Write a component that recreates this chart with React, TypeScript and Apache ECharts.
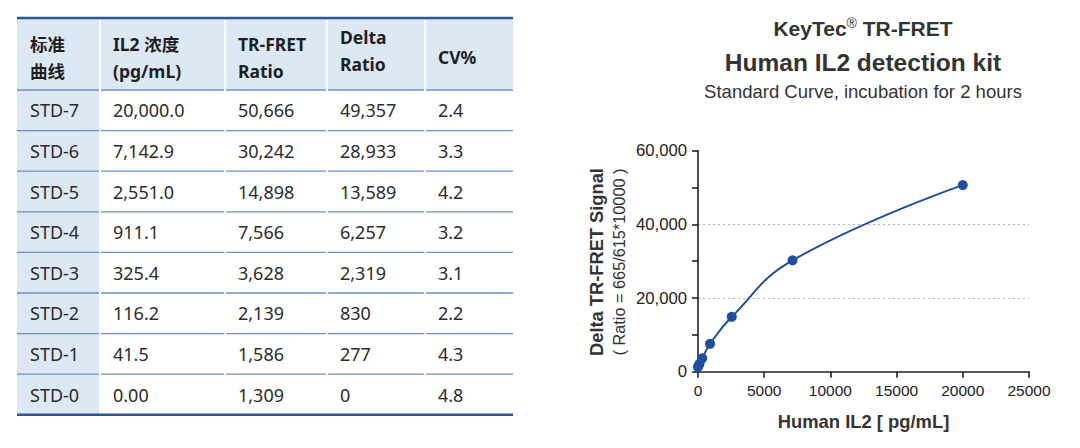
import React, { useEffect, useRef } from "react";
import * as echarts from "echarts";

// ---------- data ----------
const stdLabels = ["STD-7", "STD-6", "STD-5", "STD-4", "STD-3", "STD-2", "STD-1", "STD-0"];
const il2Conc = [20000.0, 7142.9, 2551.0, 911.1, 325.4, 116.2, 41.5, 0.0];
const trFretRatio = [50666, 30242, 14898, 7566, 3628, 2139, 1586, 1309];
const deltaRatio = [49357, 28933, 13589, 6257, 2319, 830, 277, 0];
const cvPercent = [2.4, 3.3, 4.2, 3.2, 3.1, 2.2, 4.3, 4.8];
const headerLabels = ["标准\n曲线", "IL2 浓度\n(pg/mL)", "TR-FRET\nRatio", "Delta\nRatio", "CV%"];
const xTicks = [0, 5000, 10000, 15000, 20000, 25000];
const yTicks = [0, 20000, 40000, 60000];

const fmtInt = (v: number) => v.toLocaleString("en-US");
const fmtConc = (v: number) =>
  v === 0 ? v.toFixed(2) : v.toLocaleString("en-US", { minimumFractionDigits: 1, maximumFractionDigits: 1 });

export default function App() {
  const ref = useRef<HTMLDivElement>(null);

  useEffect(() => {
    document.body.style.margin = "0";
    if (!ref.current) return;
    const chart = echarts.init(ref.current, null, { renderer: "svg" });

    // ---------- table layout ----------
    const colX = [17, 100, 225, 327, 425, 513];
    const tableTop = 18;
    const headerBottom = 90;
    const rowH = 40.6;
    const tableBottom = headerBottom + rowH * stdLabels.length;
    const headerBg = "#dde8f5";
    const lineColor = "#6f8fc2";
    const borderColor = "#2c5596";
    const latinFont = "'Noto Sans', 'Noto Sans CJK SC', sans-serif";
    const headerYOffset = [3, 3, 3, -4, 3];

    const g: any[] = [];
    g.push({ type: "rect", shape: { x: colX[0], y: tableTop, width: colX[5] - colX[0], height: headerBottom - tableTop }, style: { fill: headerBg }, silent: true });
    g.push({ type: "rect", shape: { x: colX[0], y: headerBottom, width: colX[1] - colX[0], height: tableBottom - headerBottom }, style: { fill: headerBg }, silent: true });
    for (let i = 0; i < stdLabels.length; i++) {
      const y = headerBottom + rowH * i;
      g.push({ type: "line", shape: { x1: colX[0], y1: y, x2: colX[5], y2: y }, style: { stroke: lineColor, lineWidth: 1.3 }, silent: true });
    }
    for (let c = 1; c < colX.length - 1; c++) {
      g.push({ type: "line", shape: { x1: colX[c], y1: tableTop + 2, x2: colX[c], y2: tableBottom - 2 }, style: { stroke: "#ffffff", lineWidth: 2 }, silent: true });
    }
    g.push({ type: "line", shape: { x1: colX[0], y1: tableTop, x2: colX[5], y2: tableTop }, style: { stroke: borderColor, lineWidth: 2.6 }, silent: true });
    g.push({ type: "line", shape: { x1: colX[0], y1: tableBottom, x2: colX[5], y2: tableBottom }, style: { stroke: borderColor, lineWidth: 2.6 }, silent: true });
    headerLabels.forEach((h, c) => {
      g.push({
        type: "text",
        x: colX[c] + 13,
        y: (tableTop + headerBottom) / 2 + headerYOffset[c],
        style: { text: h, fill: "#1f1f1f", font: `bold 17.5px ${latinFont}`, lineHeight: 27, textAlign: "left", textVerticalAlign: "middle" },
        silent: true,
      });
    });
    stdLabels.forEach((lab, i) => {
      const cells = [lab, fmtConc(il2Conc[i]), fmtInt(trFretRatio[i]), fmtInt(deltaRatio[i]), cvPercent[i].toFixed(1)];
      const y = headerBottom + rowH * (i + 0.5);
      cells.forEach((t, c) => {
        g.push({
          type: "text",
          x: colX[c] + 13,
          y,
          style: { text: t, fill: "#2b2b2b", font: `18px ${latinFont}`, textAlign: "left", textVerticalAlign: "middle" },
          silent: true,
        });
      });
    });

    // ---------- chart titles ----------
    const arial = "'Liberation Sans', Arial, sans-serif";
    const cx = 863;
    g.push({
      type: "text",
      x: cx,
      y: 28,
      style: {
        text: "{a|KeyTec}{s|®}{a| TR-FRET}",
        textAlign: "center",
        textVerticalAlign: "middle",
        rich: {
          a: { fontFamily: arial, fontWeight: "bold", fontSize: 21, fill: "#333333", color: "#333333" },
          s: { fontFamily: arial, fontWeight: "normal", fontSize: 14, fill: "#333333", color: "#333333", padding: [0, 0, 11, 0] },
        },
      },
      silent: true,
    });
    g.push({ type: "text", x: cx, y: 62, style: { text: "Human IL2 detection kit", textAlign: "center", textVerticalAlign: "middle", font: `bold 24.5px ${arial}`, fill: "#333333" }, silent: true });
    g.push({ type: "text", x: cx, y: 91, style: { text: "Standard Curve, incubation for 2 hours", textAlign: "center", textVerticalAlign: "middle", font: `18.5px ${arial}`, fill: "#333333" }, silent: true });
    g.push({ type: "text", x: 596, y: 262, rotation: Math.PI / 2, style: { text: "Delta TR-FRET Signal", textAlign: "center", textVerticalAlign: "middle", font: `bold 18.3px ${arial}`, fill: "#333333" }, silent: true });
    g.push({ type: "text", x: 619, y: 262, rotation: Math.PI / 2, style: { text: "( Ratio = 665/615*10000 )", textAlign: "center", textVerticalAlign: "middle", font: `16.3px ${arial}`, fill: "#333333" }, silent: true });

    const points = il2Conc.map((x, i) => [x, trFretRatio[i]]).sort((a, b) => a[0] - b[0]);
    const axisColor = "#222222";

    chart.setOption({
      animation: false,
      grid: { left: 698, right: 51, top: 150.7, bottom: 76.3, containLabel: false },
      xAxis: {
        type: "value",
        min: xTicks[0],
        max: xTicks[xTicks.length - 1],
        interval: xTicks[1] - xTicks[0],
        axisLine: { show: true, lineStyle: { color: axisColor, width: 1.6 } },
        axisTick: { show: true, length: 6, lineStyle: { color: axisColor, width: 1.6 } },
        axisLabel: { fontSize: 15.5, color: axisColor, margin: 11, fontFamily: arial, formatter: (v: number) => String(v) },
        splitLine: { show: false },
        name: "Human IL2 [ pg/mL]",
        nameLocation: "middle",
        nameGap: 41,
        nameTextStyle: { fontSize: 18.4, fontWeight: "bold", color: "#333333", fontFamily: arial },
      },
      yAxis: {
        type: "value",
        min: yTicks[0],
        max: yTicks[yTicks.length - 1],
        interval: yTicks[1] - yTicks[0],
        axisLine: { show: true, lineStyle: { color: axisColor, width: 1.6 } },
        axisTick: { show: true, length: 6, lineStyle: { color: axisColor, width: 1.6 } },
        minorTick: { show: true, splitNumber: 2, length: 6, lineStyle: { color: axisColor, width: 1.6 } },
        axisLabel: { fontSize: 16.7, color: axisColor, margin: 11, fontFamily: arial, formatter: (v: number) => fmtInt(v) },
        splitLine: { show: true, lineStyle: { type: [2, 3], width: 1.2, color: ["transparent", "#b5b5b5", "#b5b5b5", "transparent"] } },
      },
      series: [
        {
          type: "line",
          data: points,
          smooth: 0.45,
          symbol: "circle",
          symbolSize: 10,
          showSymbol: true,
          lineStyle: { color: "#1f4f9c", width: 2 },
          itemStyle: { color: "#1f4f9c" },
          clip: false,
        },
      ],
      graphic: g,
    });

    return () => chart.dispose();
  }, []);

  return <div ref={ref} style={{ width: 1080, height: 448 }} />;
}
